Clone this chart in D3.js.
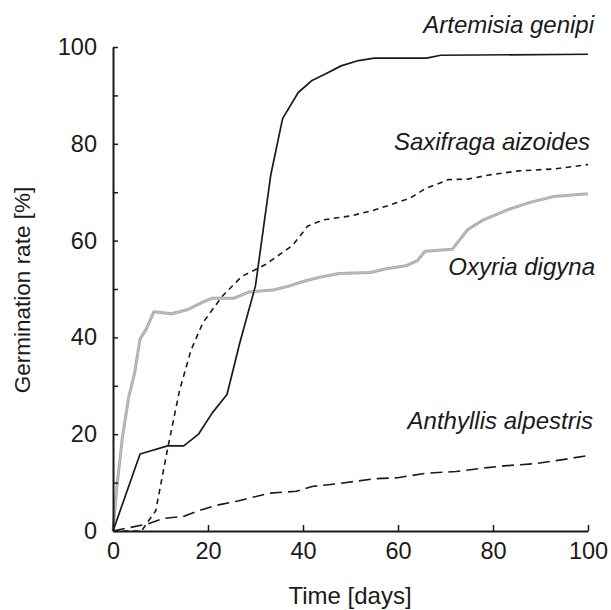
<!DOCTYPE html>
<html>
<head>
<meta charset="utf-8">
<script src="https://cdn.jsdelivr.net/npm/d3@7"></script>
<style>
  body { margin: 0; background: #fff; }
  svg text { font-family: "Liberation Sans", Arial, sans-serif; fill: #1a1a1a; }
</style>
</head>
<body>
<div class="container"></div>
<script>
// data: [day, germination %]
var artemisia = [[0,0],[5.7,15.9],[11.5,17.6],[14.9,17.6],[18,20],[20.9,24.4],[24,28.2],[26.7,38.9],
  [30,50.7],[33.2,73.5],[35.7,85.2],[39,90.6],[41.9,93.1],[44.7,94.4],[48,96.1],[51.7,97.2],
  [55,97.7],[66,97.7],[69,98.3],[100,98.5]];
var saxifraga = [[0,0],[6,0],[9,4.2],[11.5,17],[14,29],[16.4,37.3],[18.9,43],[23,48.5],[27.1,52.6],
  [32,55],[37.8,59],[41,63],[44.3,64.3],[50,65.1],[55,66.3],[62.4,68.7],[65.7,70.7],[70.6,72.6],
  [74.7,72.7],[78.8,73.5],[85.4,74.4],[92.8,74.8],[100,75.7]];
var oxyria = [[0,0],[0.8,9],[2,19.5],[3.3,27.6],[4.5,32.4],[5.7,39.7],[7,41.7],[8.6,45.3],[12.3,44.9],
  [15.6,45.7],[18.9,47.3],[20.9,48.1],[25.5,48.1],[28.7,49.4],[33.7,49.8],[37,50.6],[40.2,51.6],
  [44.3,52.6],[47.6,53.2],[54.2,53.4],[57.5,54.2],[61.6,54.8],[64,55.8],[65.7,57.8],[71.4,58.2],
  [74.7,62.3],[78,64.3],[82.9,66.3],[87.8,67.9],[92.8,69.1],[100,69.7]];
var anthyllis = [[0,0],[7.4,1.5],[10.7,2.6],[14.8,3],[18,4.2],[22.2,5.4],[26.3,6.2],[32.8,7.8],
  [38.6,8.2],[41.9,9.2],[47.6,9.8],[55,10.8],[59.9,11],[65.7,11.9],[72.2,12.3],[78.8,13.1],
  [82.9,13.5],[88.7,13.9],[94.4,14.7],[100,15.6]];

var speciesNames = ["Artemisia genipi", "Saxifraga aizoides", "Oxyria digyna", "Anthyllis alpestris"];
var xTicks = [0, 20, 40, 60, 80, 100];
var yTicks = [0, 10, 20, 30, 40, 50, 60, 70, 80, 90, 100];

var width = 611, height = 610;
var margin = {left: 113, right: 23, top: 47, bottom: 79};

var x = d3.scaleLinear().domain([0, 100]).range([margin.left, width - margin.right]);
var y = d3.scaleLinear().domain([0, 100]).range([height - margin.bottom, margin.top]);

var svg = d3.select(".container").append("svg")
    .attr("width", width)
    .attr("height", height);

// series, drawn under the axes
var series = [
  {name: speciesNames[1], data: saxifraga, stroke: "#1a1a1a", w: 1.6, dash: "5.5,4.5"},
  {name: speciesNames[3], data: anthyllis, stroke: "#1a1a1a", w: 1.6, dash: "12,6"},
  {name: speciesNames[2], data: oxyria, stroke: "#ababab", w: 3, dash: null},
  {name: speciesNames[0], data: artemisia, stroke: "#1a1a1a", w: 1.7, dash: null}
];

var line = d3.line().x(function(d){ return x(d[0]); }).y(function(d){ return y(d[1]); });

svg.selectAll("path.series").data(series).enter().append("path")
    .attr("class", "series")
    .attr("d", function(d){ return line(d.data); })
    .attr("fill", "none")
    .attr("stroke", function(d){ return d.stroke; })
    .attr("stroke-width", function(d){ return d.w; })
    .attr("stroke-dasharray", function(d){ return d.dash; })
    .attr("stroke-linejoin", "round");

// light stipple over the grey line
svg.append("path")
    .attr("d", line(oxyria))
    .attr("fill", "none")
    .attr("stroke", "#e2e2e2")
    .attr("stroke-width", 1)
    .attr("stroke-dasharray", "1,1.5");

// axes, ticks pointing inward
var xAxis = d3.axisBottom(x).tickValues(xTicks).tickSizeInner(-6).tickSizeOuter(0).tickPadding(11);
var yAxis = d3.axisLeft(y).tickValues(yTicks).tickSizeInner(-5).tickSizeOuter(0).tickPadding(16)
    .tickFormat(function(d){ return d % 20 === 0 ? d : ""; });

var gx = svg.append("g").attr("transform", "translate(0," + y(0) + ")").call(xAxis);
var gy = svg.append("g").attr("transform", "translate(" + x(0) + ",0)").call(yAxis);

[gx, gy].forEach(function(g){
  g.select(".domain").attr("stroke", "#1a1a1a").attr("stroke-width", 2);
  g.selectAll(".tick line").attr("stroke", "#1a1a1a").attr("stroke-width", 1.5);
  g.selectAll(".tick text").attr("font-size", 23.5).attr("fill", "#1a1a1a")
    .attr("font-family", "'Liberation Sans', Arial, sans-serif");
});

// axis titles
svg.append("text")
    .attr("x", 350)
    .attr("y", 604)
    .attr("text-anchor", "middle")
    .attr("font-size", 24)
    .text("Time [days]");

svg.append("text")
    .attr("transform", "translate(30," + 290 + ") rotate(-90)")
    .attr("text-anchor", "middle")
    .attr("font-size", 22.5)
    .text("Germination rate [%]");

// species labels
var labelY = [33, 150, 275, 429];
var labelX = [594, 590, 595, 593];
svg.selectAll("text.species").data(speciesNames).enter().append("text")
    .attr("class", "species")
    .attr("x", function(d, i){ return labelX[i]; })
    .attr("y", function(d, i){ return labelY[i]; })
    .attr("text-anchor", "end")
    .attr("font-size", 24)
    .attr("font-style", "italic")
    .text(function(d){ return d; });
</script>
</body>
</html>
